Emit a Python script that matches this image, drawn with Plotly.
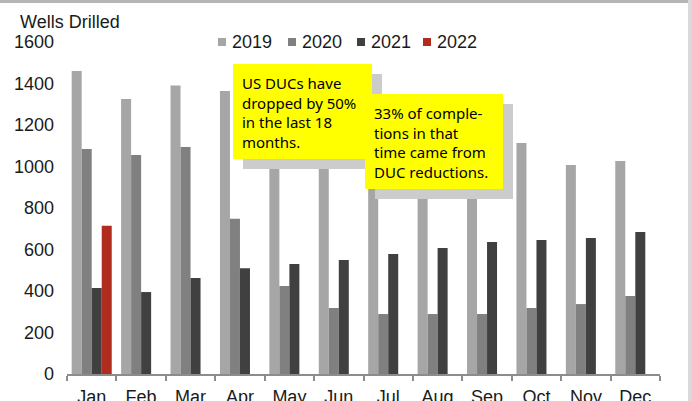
import plotly.graph_objects as go

# Monthly wells drilled, by year
months = ["Jan", "Feb", "Mar", "Apr", "May", "Jun", "Jul", "Aug", "Sep", "Oct", "Nov", "Dec"]
wells_2019 = [1460, 1325, 1390, 1364, 1380, 1300, 1310, 1250, 1180, 1113, 1007, 1027]
wells_2020 = [1084, 1055, 1094, 748, 424, 318, 289, 289, 289, 318, 337, 376]
wells_2021 = [414, 395, 463, 510, 530, 549, 578, 607, 636, 646, 655, 684]
wells_2022 = [715, None, None, None, None, None, None, None, None, None, None, None]

years = ["2019", "2020", "2021", "2022"]
series = [wells_2019, wells_2020, wells_2021, wells_2022]
colors = ["#a6a6a6", "#808080", "#404040", "#b02c1e"]

y_ticks = [0, 200, 400, 600, 800, 1000, 1200, 1400, 1600]

note_1 = "US DUCs have<br>dropped by 50%<br>in the last 18<br>months."
note_2 = "33% of comple-<br>tions in that<br>time came from<br>DUC reductions."

W, H = 692, 401
L, R, T, B = 67, 32, 42, 27
PW, PH = W - L - R, H - T - B
FONT = "Liberation Sans"
FS = 18


def px_x(px):
    return (px - L) / PW


def px_y(py):
    return (H - B - py) / PH


fig = go.Figure()
for name, vals, col in zip(years, series, colors):
    fig.add_trace(go.Bar(x=months, y=vals, name=name, marker_color=col,
                         marker_line_width=0, showlegend=False))

shapes = []
annotations = []

# frame edges
shapes.append(dict(type="rect", xref="paper", yref="paper", x0=px_x(0), x1=px_x(688),
                   y0=px_y(3), y1=px_y(0), fillcolor="#b5b5b5", line_width=0))
shapes.append(dict(type="rect", xref="paper", yref="paper", x0=px_x(688), x1=px_x(692),
                   y0=px_y(401), y1=px_y(0), fillcolor="#d9d9d9", line_width=0))

# legend
leg_x = [218, 288, 357, 423]
for name, col, lx in zip(years, colors, leg_x):
    shapes.append(dict(type="rect", xref="paper", yref="paper", x0=px_x(lx), x1=px_x(lx + 8),
                       y0=px_y(46), y1=px_y(38), fillcolor=col, line_width=0))
    annotations.append(dict(text=name, xref="paper", yref="paper", x=px_x(lx + 12), y=px_y(42),
                            xanchor="left", yanchor="middle", showarrow=False,
                            font=dict(family=FONT, size=FS, color="#1a1a1a")))

# callout boxes with drop shadows
boxes = [(233, 64, 372, 159, note_1), (365, 94, 503, 189, note_2)]
for x0, y0, x1, y1, txt in boxes:
    shapes.append(dict(type="rect", xref="paper", yref="paper", x0=px_x(x0 + 10), x1=px_x(x1 + 10),
                       y0=px_y(y1 + 10), y1=px_y(y0 + 10), fillcolor="#cccccc", line_width=0))
    shapes.append(dict(type="rect", xref="paper", yref="paper", x0=px_x(x0), x1=px_x(x1),
                       y0=px_y(y1), y1=px_y(y0), fillcolor="#ffff00", line_width=0))
    annotations.append(dict(text=txt, xref="paper", yref="paper", x=px_x(x0 + 7), y=px_y(y0 + 7),
                            xanchor="left", yanchor="top", align="left", showarrow=False,
                            font=dict(family="Comic Sans MS, Noto Sans", size=15, color="#000000")))

annotations.append(dict(text="Wells Drilled", xref="paper", yref="paper", x=px_x(18), y=px_y(22),
                        xanchor="left", yanchor="middle", showarrow=False,
                        font=dict(family=FONT, size=FS, color="#1a1a1a")))

fig.update_layout(
    width=W, height=H,
    margin=dict(l=L, r=R, t=T, b=B, pad=0, autoexpand=False),
    paper_bgcolor="white", plot_bgcolor="white",
    barmode="group", bargap=0.19, bargroupgap=0,
    shapes=shapes, annotations=annotations,
    font=dict(family=FONT, size=FS, color="#1a1a1a"),
)
fig.update_xaxes(type="category", showline=True, linecolor="#8c8c8c", linewidth=1.5,
                 ticks="outside", tickson="boundaries", ticklen=5, tickcolor="#8c8c8c",
                 tickwidth=1.5, showgrid=False, ticklabelstandoff=6, automargin=False,
                 tickfont=dict(family=FONT, size=FS, color="#1a1a1a"))
fig.update_yaxes(range=[0, 1600], tickvals=y_ticks, showgrid=False, zeroline=False,
                 showline=False, ticks="", ticklabelstandoff=12, automargin=False,
                 tickfont=dict(family=FONT, size=FS, color="#1a1a1a"))

fig.write_html("out.html")
